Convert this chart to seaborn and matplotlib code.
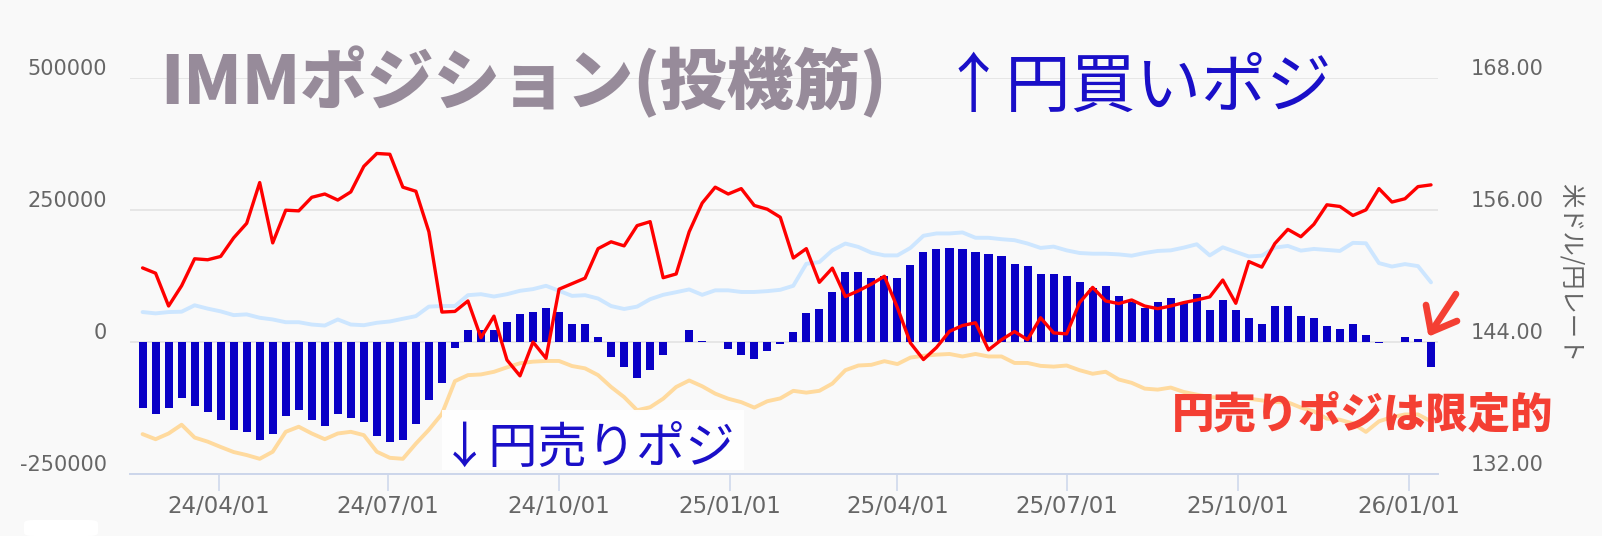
import numpy as np
import pandas as pd
import matplotlib
matplotlib.use("Agg")
import matplotlib.pyplot as plt
import matplotlib.dates as mdates
import matplotlib.transforms as mtransforms
from matplotlib.patches import Rectangle, FancyBboxPatch
from matplotlib.lines import Line2D
import seaborn as sns

# ---------------- data (thousand contracts / yen) ----------------
report_dates = pd.date_range("2024-02-20", periods=100, freq="7D")

net_k = [
    -124.4, -135.9, -124.4, -105.3, -120.6, -132.1, -147.4, -166.5, -170.4, -185.7,
    -174.2, -139.7, -128.3, -147.4, -158.9, -135.9, -143.6, -151.2, -178.0, -189.5,
    -185.7, -155.1, -109.1, -77.0, -11.0, 22.3, 22.0, 22.3, 37.6, 52.3,
    56.8, 63.8, 56.8, 35.0, 34.0, 10.0, -28.0, -48.0, -68.0, -53.0,
    -24.4, 0.0, 22.5, 2.6, 0.0, -12.6, -24.4, -33.0, -17.1, -3.0,
    19.0, 54.5, 62.5, 95.1, 133.4, 133.4, 121.9, 125.7, 121.9, 144.8,
    171.0, 175.5, 178.7, 175.5, 171.0, 167.2, 163.4, 148.0, 144.2, 128.9,
    128.9, 125.1, 113.6, 102.1, 105.9, 86.8, 75.3, 63.8, 75.3, 83.0,
    75.3, 90.6, 60.0, 79.1, 60.0, 44.7, 33.2, 67.6, 67.6, 48.5,
    44.7, 29.4, 25.5, 33.2, 14.0, -1.5, 0.0, 10.2, 6.4, -46.7,
]
long_k = [
    56.7, 54.2, 56.7, 57.4, 69.5, 63.2, 58.0, 50.9, 52.3, 45.9,
    42.7, 37.5, 37.5, 33.1, 31.2, 42.7, 33.1, 31.8, 36.4, 38.9,
    44.0, 49.0, 67.0, 68.1, 68.1, 88.6, 90.5, 86.1, 90.5, 96.9,
    100.1, 106.4, 96.9, 87.3, 88.6, 82.3, 68.1, 62.5, 67.0, 81.0,
    89.3, 94.3, 99.5, 89.3, 97.8, 97.8, 94.7, 94.7, 96.3, 98.8,
    106.4, 148.0, 151.2, 173.4, 186.3, 179.9, 169.0, 163.9, 163.9, 178.0,
    201.0, 205.4, 205.4, 207.3, 197.2, 197.2, 194.5, 192.6, 186.3, 178.0,
    180.5, 173.4, 168.4, 167.1, 167.1, 165.8, 163.3, 168.4, 172.3, 173.4,
    178.6, 184.9, 163.9, 179.2, 170.4, 161.9, 163.3, 178.6, 181.8, 172.9,
    176.1, 174.2, 172.3, 187.6, 186.8, 149.3, 142.8, 147.4, 143.6, 112.9,
]
short_k = [
    -174.2, -183.8, -173.0, -156.4, -180.7, -188.4, -198.5, -208.1, -213.8, -220.9,
    -207.5, -169.8, -160.2, -173.0, -183.8, -173.0, -169.8, -176.1, -207.5, -219.0,
    -220.9, -192.2, -166.0, -135.9, -74.0, -62.6, -61.3, -56.3, -47.9, -40.2,
    -37.1, -35.8, -35.8, -45.4, -49.8, -62.6, -85.0, -104.1, -129.0, -123.3,
    -107.2, -85.0, -72.7, -83.7, -97.6, -107.2, -113.7, -124.0, -112.0, -106.6,
    -92.3, -95.7, -92.3, -78.6, -53.3, -44.4, -43.1, -36.2, -41.7, -29.4,
    -26.0, -23.9, -22.6, -27.3, -22.6, -27.3, -27.3, -39.6, -39.6, -45.1,
    -46.5, -44.4, -53.3, -60.0, -56.2, -70.8, -77.2, -88.1, -90.0, -86.1,
    -94.4, -99.5, -104.0, -105.9, -105.3, -107.2, -110.4, -113.6, -114.0, -124.0,
    -131.0, -145.0, -147.0, -154.0, -170.0, -150.0, -142.0, -137.0, -137.0, -150.0,
]
usdjpy = [
    150.73, 150.25, 147.27, 149.11, 151.56, 151.47, 151.77, 153.46, 154.78, 158.48,
    153.00, 155.97, 155.91, 157.14, 157.44, 156.89, 157.63, 159.95, 161.12, 161.05,
    158.06, 157.69, 154.01, 146.72, 146.78, 147.73, 144.40, 146.35, 142.37, 140.93,
    144.00, 142.53, 148.80, 149.30, 149.80, 152.48, 153.10, 152.73, 154.57, 154.93,
    149.84, 150.18, 154.01, 156.62, 158.06, 157.44, 157.93, 156.40, 156.06, 155.33,
    151.63, 152.48, 149.42, 150.71, 148.13, 148.65, 149.26, 149.97, 147.12, 143.91,
    142.41, 143.50, 144.97, 145.50, 145.75, 143.29, 144.21, 144.95, 144.21, 146.21,
    144.83, 144.74, 147.58, 148.96, 147.73, 147.49, 147.82, 147.27, 147.03, 147.27,
    147.58, 147.82, 148.10, 149.63, 147.52, 151.31, 150.80, 152.94, 154.23, 153.56,
    154.69, 156.46, 156.31, 155.49, 156.00, 157.93, 156.71, 157.01, 158.11, 158.27,
]

left_ticks = [-250000, 0, 250000, 500000]
left_tick_labels = ["-250000", "0", "250000", "500000"]
right_ticks = [132.0, 144.0, 156.0, 168.0]
right_tick_labels = ["132.00", "144.00", "156.00", "168.00"]
x_tick_dates = ["2024-04-01", "2024-07-01", "2024-10-01", "2025-01-01",
                "2025-04-01", "2025-07-01", "2025-10-01", "2026-01-01"]
x_tick_labels = ["24/04/01", "24/07/01", "24/10/01", "25/01/01",
                 "25/04/01", "25/07/01", "25/10/01", "26/01/01"]

title_text = "IMMポジション(投機筋)"
buy_text = "↑円買いポジ"
sell_text = "↓円売りポジ"
note_text = "円売りポジは限定的"
right_axis_title = "米ドル/円レート"

# ---------------- style ----------------
W, H, DPI = 1602, 536, 100
BG = "#f9f9f9"
BAR = "#0a00c6"
RED = "#ff0000"
LBLUE = "#cde6ff"
ORANGE = "#ffda9e"
LABEL = "#666666"
JP = ["Noto Sans CJK JP", "DejaVu Sans"]

sns.set_theme(style="white")
plt.rcParams["font.family"] = ["DejaVu Sans", "Noto Sans CJK JP"]

df = pd.DataFrame({
    "x": mdates.date2num(report_dates),
    "net": np.array(net_k) * 1000,
    "longs": np.array(long_k) * 1000,
    "shorts": np.array(short_k) * 1000,
    "usdjpy": usdjpy,
})

fig = plt.figure(figsize=(W / DPI, H / DPI), dpi=DPI, facecolor=BG)


def fx(px):
    return px / W


def fy(py):
    return 1 - py / H


ax = fig.add_axes([fx(130), fy(474.2), 1307.7 / W, 396.5 / H])
ax.set_facecolor(BG)

ax.set_ylim(-250000, 500000)
ax.set_yticks(left_ticks)
ax.grid(axis="y", color="#e6e6e6", linewidth=1.4)
ax.grid(axis="x", visible=False)
ax.set_axisbelow(True)

sns.barplot(data=df, x="x", y="net", native_scale=True, width=0.62, color=BAR,
            saturation=1, errorbar=None, linewidth=0, ax=ax)
sns.lineplot(data=df, x="x", y="longs", color=LBLUE, linewidth=2.8, ax=ax)
sns.lineplot(data=df, x="x", y="shorts", color=ORANGE, linewidth=2.8, ax=ax)

ax2 = ax.twinx()
sns.lineplot(data=df, x="x", y="usdjpy", color=RED, linewidth=2.4, ax=ax2)
ax2.set_ylim(132, 168)
ax2.set_yticks(right_ticks)
ax2.grid(False)

x0 = mdates.date2num(pd.Timestamp("2024-04-01"))
x1 = mdates.date2num(pd.Timestamp("2026-01-01"))
ax.set_xlim(x0 - 47.76, x1 + 15.6)
ax2.set_xlim(x0 - 47.76, x1 + 15.6)

for a in (ax, ax2):
    a.set_xlabel("")
    a.set_ylabel("")
    for s in ("left", "right", "top"):
        a.spines[s].set_visible(False)
    a.tick_params(axis="y", left=False, right=False, labelleft=False, labelright=False)
ax2.spines["bottom"].set_visible(False)
ax.spines["bottom"].set_color("#ccd6eb")
ax.spines["bottom"].set_linewidth(1.4)

ax.set_xticks(mdates.date2num(pd.to_datetime(x_tick_dates)))
ax.set_xticklabels(x_tick_labels)
ax.tick_params(axis="x", direction="out", length=12.2, width=1.1, color="#ccd6eb",
               labelsize=16.5, labelcolor=LABEL, pad=3, bottom=True)
ax2.tick_params(axis="x", bottom=False, labelbottom=False)


def off(a, dx, dy):
    base = mtransforms.blended_transform_factory(a.transAxes, a.transData)
    return base + mtransforms.ScaledTranslation(dx / DPI, dy / DPI, fig.dpi_scale_trans)


for v, lab in zip(left_ticks, left_tick_labels):
    ax.text(0, v, lab, transform=off(ax, -23, 3), ha="right", va="baseline",
            fontsize=15, color=LABEL, family="DejaVu Sans")
for v, lab in zip(right_ticks, right_tick_labels):
    ax2.text(1, v, lab, transform=off(ax2, 32.5, 3), ha="left", va="baseline",
             fontsize=15, color=LABEL, family="DejaVu Sans")

fig.text(fx(1571), fy(273), right_axis_title, rotation=270, ha="center", va="center",
         fontsize=17.5, color=LABEL, family=JP)

# ---------------- annotations ----------------
fig.text(fx(160), fy(104), title_text, ha="left", va="baseline", fontsize=48,
         fontweight="black", color="#978b9a", family=JP)
fig.text(fx(941), fy(107), buy_text, ha="left", va="baseline", fontsize=47,
         color="#1a0fc8", family=JP)

fig.add_artist(Rectangle((fx(442), fy(470)), (744 - 442) / W, (470 - 410) / H,
                         transform=fig.transFigure, facecolor="white",
                         edgecolor="none", alpha=0.95))
fig.text(fx(440), fy(463), sell_text, ha="left", va="baseline", fontsize=35.5,
         color="#1a0fc8", family=JP)

fig.text(fx(1172), fy(427), note_text, ha="left", va="baseline", fontsize=30.5,
         fontweight="heavy", color="#f43f33", family=JP)

arrow_kw = dict(color="#f43f33", linewidth=4.8, solid_capstyle="round",
                solid_joinstyle="round", transform=fig.transFigure)
fig.add_artist(Line2D([fx(1456), fx(1431)], [fy(294), fy(332)], **arrow_kw))
fig.add_artist(Line2D([fx(1426), fx(1431), fx(1457)], [fy(305), fy(332), fy(321)], **arrow_kw))

fig.add_artist(FancyBboxPatch((fx(24), fy(536)), (98 - 24) / W, 16 / H,
                              boxstyle="round,pad=0,rounding_size=0.006",
                              transform=fig.transFigure, facecolor="white",
                              edgecolor="none"))

fig.savefig("out.png", dpi=DPI, facecolor=BG)
